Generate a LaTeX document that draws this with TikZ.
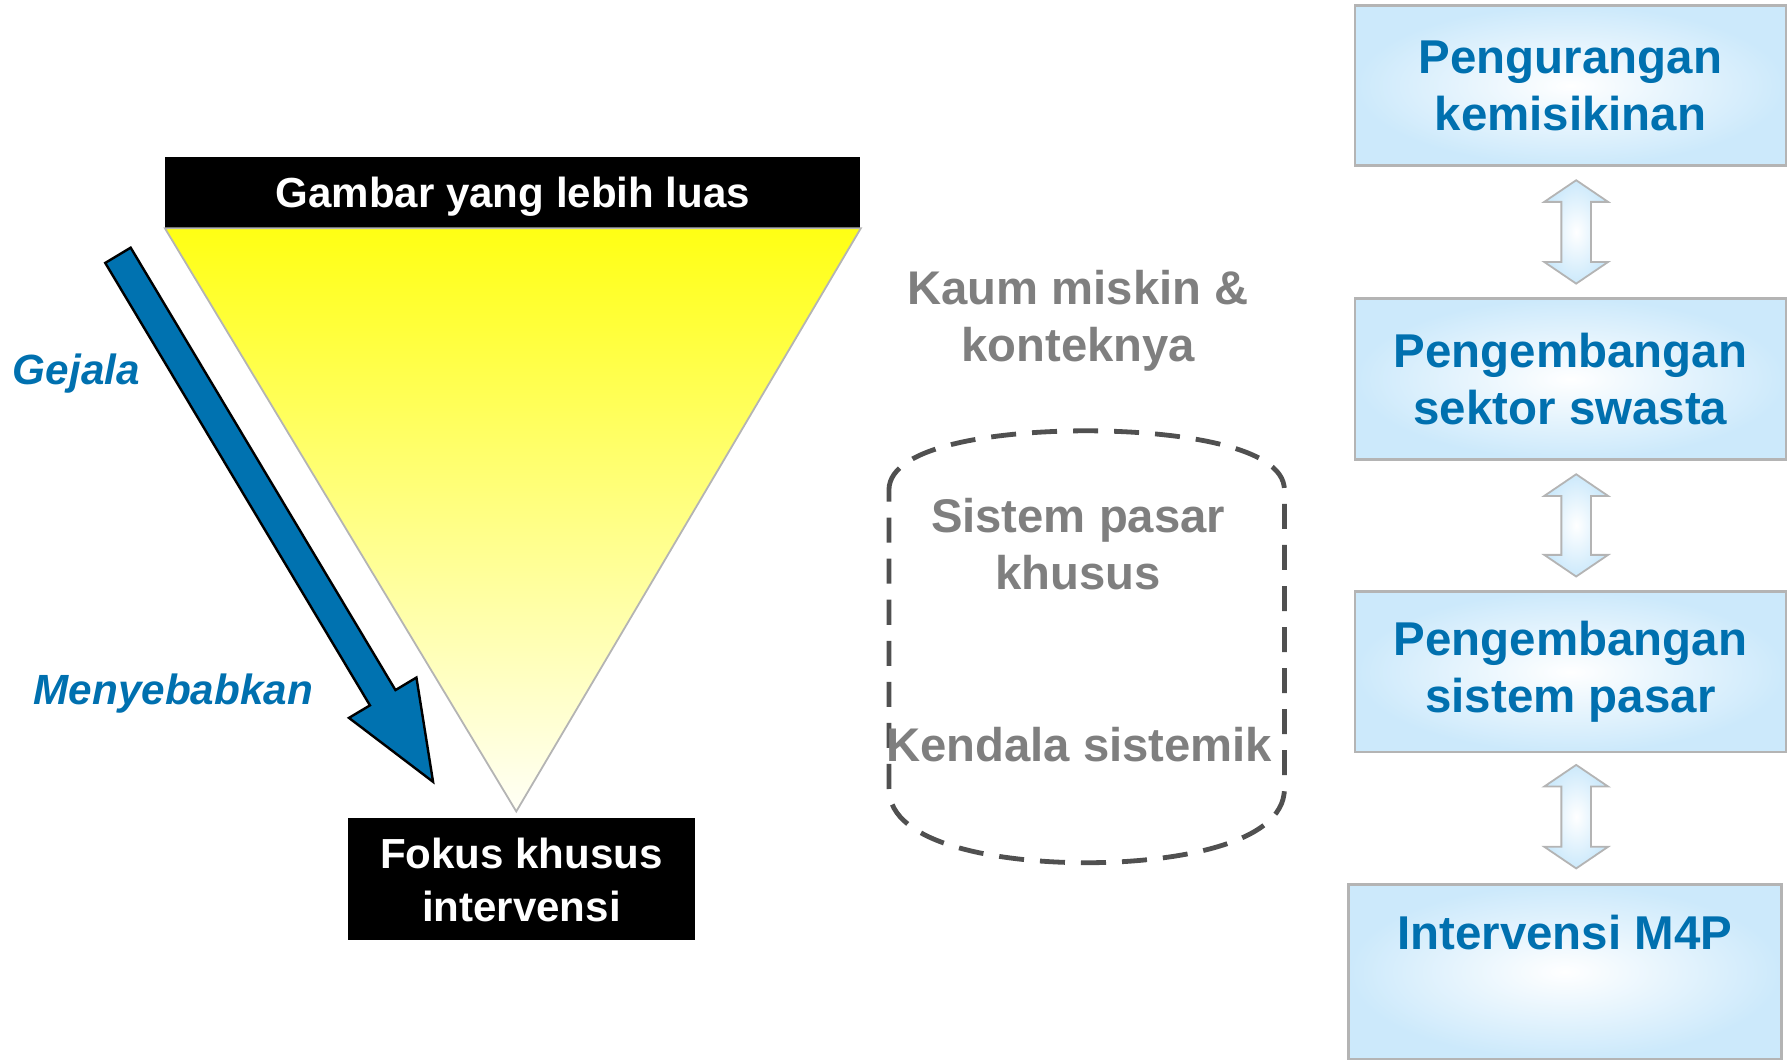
\documentclass[tikz,border=0pt]{standalone}
\usepackage{fontspec}
\setmainfont{Liberation Sans}
\usetikzlibrary{calc}
\definecolor{mblue}{RGB}{0,114,176}
\definecolor{tblue}{RGB}{0,112,175}
\definecolor{tgray}{RGB}{127,127,127}
\definecolor{dgray}{RGB}{80,80,80}
\definecolor{bgray}{RGB}{180,180,180}
\definecolor{lblue}{RGB}{204,233,251}
\definecolor{ytop}{RGB}{255,255,20}
\definecolor{ybot}{RGB}{255,255,246}
\newcommand\dblarr[2]{%
  \draw[dblarrow] (#1) -- ($(#1)+(28,19)$) -- ($(#1)+(13,19)$) -- ($(#2)+(13,-19)$) -- ($(#2)+(28,-19)$) -- (#2) -- ($(#2)+(-28,-19)$) -- ($(#2)+(-13,-19)$) -- ($(#1)+(-13,19)$) -- ($(#1)+(-28,19)$) -- cycle;}
\begin{document}
\begin{tikzpicture}[x=0.02cm,y=-0.02cm,
  blackbox/.style={fill=black, text=white, font=\fontsize{21}{26.5}\selectfont\bfseries, align=center, inner sep=0pt},
  rbox/.style={draw=bgray, line width=1.3pt, inner color=white, outer color=lblue, text=tblue, font=\fontsize{23.7}{28.5}\selectfont\bfseries, align=center, inner sep=0pt},
  graytxt/.style={text=tgray, font=\fontsize{23.6}{28.5}\selectfont\bfseries, align=center, inner sep=0pt},
  sidelbl/.style={text=tblue, font=\fontsize{21.1}{25}\selectfont\bfseries\itshape, inner sep=0pt},
  dblarrow/.style={draw=bgray, line width=0.9pt, inner color=white, outer color=lblue, line join=miter},
  bigarrow/.style={fill=mblue, draw=black, line width=1.2pt, line join=miter},
  tri/.style={draw=bgray, line width=0.9pt, top color=ytop, bottom color=ybot},
  dashedbox/.style={draw=dgray, line width=2.4pt, dash pattern=on 12.5pt off 8pt}
]
\useasboundingbox (0,0) rectangle (1568,930);

% left funnel
\node[blackbox, minimum width=12.2cm, minimum height=1.24cm] (top) at (450,169) {};
\node[blackbox] (toptxt) at (450,173) {Gambar yang lebih luas};
\node[blackbox, minimum width=6.1cm, minimum height=2.14cm] (focus) at (457.5,771.5) {};
\node[blackbox] (focustxt) at (457.5,772.5) {Fokus khusus\\intervensi};
\coordinate (apex) at (453,712);
\draw[tri] (top.south west) -- (top.south east) -- (apex) -- cycle;

% big blue arrow
\coordinate (tailR) at (114.65,217.3);
\coordinate (tailL) at (92.35,230.7);
\coordinate (tip) at (380,686);
\draw[bigarrow] (tailR) -- (347,605.5) -- (365.4,594.5) -- (tip) -- (306.2,629.9) -- (324.6,618.9) -- (tailL) -- cycle;

\node[sidelbl] (gejala) at (67,328) {Gejala};
\node[sidelbl] (sebab) at (152,609) {Menyebabkan};

% middle column
\node[graytxt] (kaum) at (946,281.5) {Kaum miskin \&\\konteknya};
\draw[dashedbox] (780,430) .. controls (780,390) and (880,378) .. (953,378)
  .. controls (1026,378) and (1127,390) .. (1127,430) -- (1127,692)
  .. controls (1127,742) and (1026,757) .. (953,757)
  .. controls (880,757) and (780,742) .. (780,692) -- cycle;
\node[graytxt] (pasar) at (946,477.5) {Sistem pasar\\khusus};
\node[graytxt] (kendala) at (947,653) {Kendala sistemik};

% right column
\node[rbox, minimum width=7.56cm, minimum height=2.8cm] (b1) at (1378,75) {Pengurangan\\kemisikinan};
\node[rbox, minimum width=7.56cm, minimum height=2.82cm] (b2) at (1378,332.5) {Pengembangan\\sektor swasta};
\node[rbox, minimum width=7.56cm, minimum height=2.82cm] (b3) at (1378,589.5) {Pengembangan\\sistem pasar};
\node[rbox, minimum width=7.6cm, minimum height=3.06cm, anchor=north] (b4) at (1373,775) {};
\node[text=tblue, font=\fontsize{23.7}{28.5}\selectfont\bfseries, inner sep=0pt] (m4p) at (1373,818) {Intervensi M4P};

\coordinate (a1t) at ($(b1.south)+(5,12)$);
\coordinate (a1b) at ($(b2.north)+(5,-12)$);
\coordinate (a2t) at ($(b2.south)+(5,12)$);
\coordinate (a2b) at ($(b3.north)+(5,-12)$);
\coordinate (a3t) at ($(b3.south)+(5,10)$);
\coordinate (a3b) at ($(b4.north)+(10,-13)$);
\dblarr{a1t}{a1b}
\dblarr{a2t}{a2b}
\dblarr{a3t}{a3b}
\end{tikzpicture}
\end{document}
